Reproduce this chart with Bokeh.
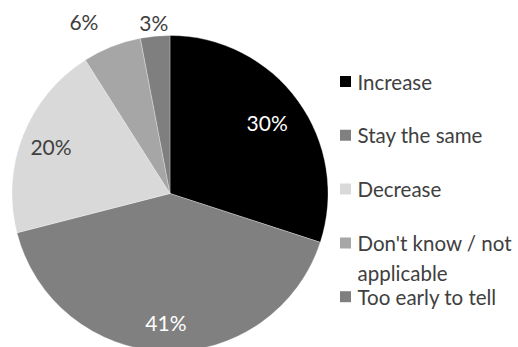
import math
from bokeh.plotting import figure
from bokeh.models import Range1d, ColumnDataSource
from bokeh.core.properties import value
from bokeh.embed import file_html
from bokeh.resources import INLINE

# ---- data ----
categories = ["Increase", "Stay the same", "Decrease", "Don't know / not\napplicable", "Too early to tell"]
shares = [30, 41, 20, 6, 3]
pct_labels = ["30%", "41%", "20%", "6%", "3%"]

# ---- styles ----
colors = ["#000000", "#808080", "#d9d9d9", "#a6a6a6", "#7f7f7f"]
label_colors = ["#ffffff", "#ffffff", "#404040", "#404040", "#404040"]
label_rfac = [0.76, 0.82, 0.81, 1.17, 1.09]
label_dx = [0, 0, 0, -18, 0]
FONT = "Lato"
FS = "21px"
LEG_FS_PX = 20.5
LEG_FS = f"{LEG_FS_PX}px"
LINE_H = 1.22

W, H = 518, 347
cx, cy, R = 169.5, 154.0, 158.0

p = figure(width=W, height=H, output_backend="svg", toolbar_location=None,
           x_range=Range1d(0, W), y_range=Range1d(0, H), min_border=0)
p.axis.visible = False
p.grid.visible = False
p.outline_line_color = None
p.background_fill_color = "white"

total = float(sum(shares))
starts, ends, mids = [], [], []
cum = 0.0
for s in shares:
    a0 = math.pi / 2 - 2 * math.pi * cum / total
    cum += s
    a1 = math.pi / 2 - 2 * math.pi * cum / total
    starts.append(a0)
    ends.append(a1)
    mids.append((a0 + a1) / 2)

src = ColumnDataSource(dict(x=[cx] * len(shares), y=[cy] * len(shares),
                            start=starts, end=ends, color=colors))
p.wedge(x="x", y="y", radius=R, start_angle="start", end_angle="end",
        direction="clock", fill_color="color", line_color="white", line_width=0.3,
        source=src)

lx = [cx + R * f * math.cos(m) + d for f, m, d in zip(label_rfac, mids, label_dx)]
ly = [cy + R * f * math.sin(m) for f, m in zip(label_rfac, mids)]
p.text(x=lx, y=ly, text=pct_labels, text_color=label_colors,
       text_font=value(FONT), text_font_size=FS, text_align="center",
       text_baseline="middle")

# ---- legend ----
leg_x, leg_top, leg_step, sq = 345.0, 266.0, 53.8, 11
ys = [leg_top - i * leg_step for i in range(len(categories))]
# multi-line labels: keep first line level with the square
line_px = LEG_FS_PX * 1.2 * LINE_H
ty = [y - (c.count("\n")) * line_px / 2 for y, c in zip(ys, categories)]
p.rect(x=[leg_x] * len(categories), y=ys, width=sq, height=sq,
       fill_color=colors, line_color=None)
p.text(x=[leg_x + 12] * len(categories), y=ty, text=categories,
       text_color="#404040", text_font=value(FONT), text_font_size=LEG_FS,
       text_align="left", text_baseline="middle", text_line_height=LINE_H)

open("out.html", "w").write(file_html(p, INLINE))
